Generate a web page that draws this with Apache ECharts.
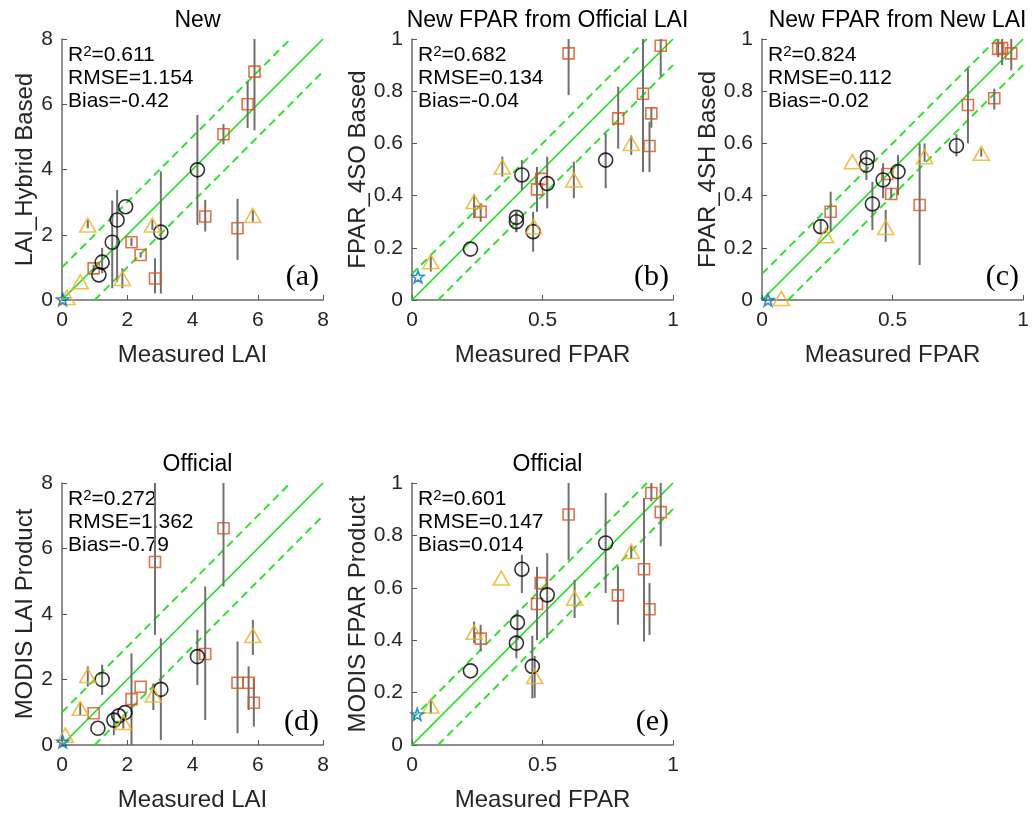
<!DOCTYPE html>
<html>
<head>
<meta charset="utf-8">
<script src="https://cdn.jsdelivr.net/npm/echarts@6/dist/echarts.min.js"></script>
<style>
  html, body { margin: 0; padding: 0; background: #fff; }
  #chart { width: 1032px; height: 814px; }
</style>
</head>
<body>
<div id="chart"></div>
<script>
// Each point: [measured, estimated, errLow, errHigh]; null error = no bar drawn.

// (a) New LAI (hybrid) vs measured LAI
const aSquares = [[5.9,7.0,5.2,8.0],[5.69,6.0,5.27,6.7],[4.95,5.08,4.77,5.39],[4.39,2.56,2.1,3.07],[5.38,2.2,1.23,3.1],[2.13,1.77,1.65,1.9],[2.41,1.38,1.3,1.46],[0.97,0.97,0.88,1.08],[2.85,0.66,0.2,1.28]];
const aCircles = [[4.15,3.99,2.3,5.67],[1.95,2.86,null,null],[1.69,2.45,0.56,3.37],[1.54,1.77,0.36,3.05],[1.23,1.16,0.82,1.6],[1.13,0.77,null,null],[3.03,2.08,0.2,3.94]];
const aTriangles = [[0.79,2.3,2.2,2.45],[2.77,2.3,2.15,2.45],[5.85,2.59,2.4,2.75],[0.56,0.56,null,null],[1.85,0.66,0.36,0.97],[0.15,0.08,null,null]];
const aStars = [[0.02,0.02,null,null]];
const aStats = ['0.611', '1.154', '-0.42'];

// (b) New FPAR from official LAI vs measured FPAR
const bSquares = [[0.60,0.945,0.785,1.0],[0.953,0.974,0.856,1.0],[0.885,0.79,0.49,1.0],[0.917,0.715,0.66,0.74],[0.79,0.696,0.58,0.817],[0.91,0.59,0.49,0.683],[0.495,0.464,null,null],[0.479,0.424,0.338,0.51],[0.263,0.338,0.3,0.37]];
const bCircles = [[0.421,0.479,0.421,0.536],[0.518,0.446,0.351,0.549],[0.742,0.536,0.428,0.638],[0.40,0.317,0.26,0.34],[0.40,0.30,0.26,0.34],[0.464,0.262,0.185,0.338],[0.224,0.195,null,null]];
const bTriangles = [[0.346,0.51,0.473,0.549],[0.238,0.377,0.314,0.404],[0.62,0.46,0.39,0.53],[0.84,0.60,0.556,0.63],[0.466,0.281,null,null],[0.072,0.147,0.109,0.17]];
const bStars = [[0.023,0.089,null,null]];
const bStats = ['0.682', '0.134', '-0.04'];

// (c) New FPAR from new LAI vs measured FPAR
const cSquares = [[0.905,0.962,0.93,1.0],[0.92,0.965,0.9,1.0],[0.955,0.945,0.88,1.0],[0.89,0.773,0.73,0.81],[0.789,0.747,0.6,0.888],[0.48,0.483,null,null],[0.495,0.406,0.39,0.43],[0.263,0.338,0.262,0.415],[0.604,0.364,0.134,0.6]];
const cCircles = [[0.404,0.545,null,null],[0.40,0.517,0.46,0.568],[0.521,0.492,0.402,0.555],[0.464,0.46,0.39,0.524],[0.745,0.591,0.55,0.635],[0.423,0.368,0.268,0.453],[0.225,0.281,0.255,0.307]];
const cTriangles = [[0.346,0.53,null,null],[0.623,0.549,0.53,0.6],[0.84,0.562,0.55,0.58],[0.474,0.278,0.223,0.345],[0.243,0.246,null,null],[0.074,0.006,null,null]];
const cStars = [[0.023,0.0,null,null]];
const cStats = ['0.824', '0.112', '-0.02'];

// (d) Official MODIS LAI vs measured LAI
const dSquares = [[4.95,6.62,4.84,8.0],[2.85,5.59,3.36,8.0],[4.39,2.78,0.76,4.84],[5.38,1.9,0.36,3.16],[5.72,1.9,1.07,2.4],[5.88,1.29,0.56,2.04],[2.41,1.78,null,null],[2.13,1.40,0.0,2.8],[0.97,0.97,null,null]];
const dCircles = [[4.15,2.7,1.83,3.52],[3.03,1.70,0.15,3.26],[1.23,2.0,1.53,2.45],[1.93,0.99,null,null],[1.74,0.89,null,null],[1.59,0.76,0.3,1.0],[1.1,0.51,null,null]];
const dTriangles = [[0.79,2.12,1.78,2.4],[5.85,3.34,2.75,3.82],[2.8,1.53,1.07,1.88],[0.56,1.12,0.9,1.3],[1.88,0.69,0.5,0.85],[0.1,0.3,null,null]];
const dStars = [[0.02,0.1,null,null]];
const dStats = ['0.272', '1.362', '-0.79'];

// (e) Official MODIS FPAR vs measured FPAR
const eSquares = [[0.917,0.962,0.93,1.0],[0.953,0.889,0.758,1.0],[0.60,0.88,0.707,1.0],[0.889,0.671,0.395,0.943],[0.789,0.571,0.459,0.682],[0.91,0.518,0.42,0.618],[0.493,0.618,null,null],[0.479,0.538,0.40,0.68],[0.263,0.406,0.357,0.459]];
const eCircles = [[0.742,0.771,0.58,0.962],[0.421,0.671,0.58,0.726],[0.518,0.573,0.408,0.732],[0.404,0.468,0.401,0.516],[0.40,0.389,0.331,0.42],[0.461,0.30,0.178,0.417],[0.224,0.283,null,null]];
const eTriangles = [[0.342,0.637,null,null],[0.238,0.43,0.389,0.471],[0.623,0.56,0.485,0.631],[0.84,0.739,0.71,0.76],[0.47,0.261,0.18,0.34],[0.072,0.149,0.12,0.17]];
const eStars = [[0.02,0.117,null,null]];
const eStats = ['0.601', '0.147', '0.014'];

// Axis ranges and +/- tolerance bands
const laiMax = 8, laiStep = 2, laiBand = 1;
const fparMax = 1, fparStepX = 0.5, fparStepY = 0.2, fparBand = 0.1;

const FONT = '"Liberation Sans", Arial, sans-serif';
const SERIF = '"Liberation Serif", "Times New Roman", serif';

const panels = [
  { left: 62,  top: 39,  size: [261, 261], max: laiMax,  xStep: laiStep,   yStep: laiStep,   band: laiBand,
    title: 'New', xName: 'Measured LAI', yName: 'LAI_Hybrid Based', stats: aStats, tag: '(a)',
    groups: [aSquares, aCircles, aTriangles, aStars] },
  { left: 412, top: 39,  size: [261, 261], max: fparMax, xStep: fparStepX, yStep: fparStepY, band: fparBand,
    title: 'New FPAR from Official LAI', xName: 'Measured FPAR', yName: 'FPAR_4SO Based', stats: bStats, tag: '(b)',
    groups: [bSquares, bCircles, bTriangles, bStars] },
  { left: 762, top: 39,  size: [261, 261], max: fparMax, xStep: fparStepX, yStep: fparStepY, band: fparBand,
    title: 'New FPAR from New LAI', xName: 'Measured FPAR', yName: 'FPAR_4SH Based', stats: cStats, tag: '(c)',
    groups: [cSquares, cCircles, cTriangles, cStars] },
  { left: 62,  top: 483, size: [261, 262], max: laiMax,  xStep: laiStep,   yStep: laiStep,   band: laiBand,
    title: 'Official', xName: 'Measured LAI', yName: 'MODIS LAI Product', stats: dStats, tag: '(d)',
    groups: [dSquares, dCircles, dTriangles, dStars] },
  { left: 412, top: 483, size: [261, 262], max: fparMax, xStep: fparStepX, yStep: fparStepY, band: fparBand,
    title: 'Official', xName: 'Measured FPAR', yName: 'MODIS FPAR Product', stats: eStats, tag: '(e)',
    groups: [eSquares, eCircles, eTriangles, eStars] }
];

// Marker styles per group: square, circle, triangle, pentagram
const STAR = 'path://M0,-10L2.35,-3.24L9.51,-3.09L3.8,1.24L5.88,8.09L0,4L-5.88,8.09L-3.8,1.24L-9.51,-3.09L-2.35,-3.24Z';
const markers = [
  { symbol: 'rect',     size: 11,       color: '#D95319' },
  { symbol: 'circle',   size: 14,       color: '#000000' },
  { symbol: 'triangle', size: [16, 14], color: '#EDB120' },
  { symbol: STAR,       size: 12,       color: '#0072BD' }
];

const fmt = v => String(Math.round(v * 100) / 100);

const grids = [], xAxes = [], yAxes = [], series = [], titles = [], graphics = [];

panels.forEach((p, i) => {
  grids.push({ left: p.left, top: p.top, width: p.size[0], height: p.size[1] });

  const axisCommon = {
    min: 0, max: p.max,
    axisLine: { show: true, onZero: false, lineStyle: { color: '#6a6a6a', width: 1.5 } },
    axisTick: { show: true, inside: true, length: 5, lineStyle: { color: '#555', width: 1 } },
    splitLine: { show: false },
    nameLocation: 'middle',
    nameTextStyle: { fontFamily: FONT, fontSize: 24, color: '#262626' }
  };
  xAxes.push(Object.assign({}, axisCommon, {
    type: 'value', gridIndex: i, interval: p.xStep, name: p.xName, nameGap: 43,
    axisLabel: { fontFamily: FONT, fontSize: 21, color: '#262626', margin: 10, formatter: fmt }
  }));
  yAxes.push(Object.assign({}, axisCommon, {
    type: 'value', gridIndex: i, interval: p.yStep, name: p.yName, nameGap: 21,
    axisLabel: { fontFamily: FONT, fontSize: 21, color: '#262626', margin: 9, formatter: fmt }
  }));

  // 1:1 line and tolerance band
  const lineBase = { type: 'line', xAxisIndex: i, yAxisIndex: i, symbol: 'none', silent: true, z: 1 };
  series.push(Object.assign({}, lineBase, {
    data: [[0, 0], [p.max, p.max]], lineStyle: { color: '#0fe60f', width: 1.6 }
  }));
  series.push(Object.assign({}, lineBase, {
    data: [[0, p.band], [p.max - p.band, p.max]], lineStyle: { color: '#22e622', width: 1.9, type: [8, 5] }
  }));
  series.push(Object.assign({}, lineBase, {
    data: [[p.band, 0], [p.max, p.max - p.band]], lineStyle: { color: '#22e622', width: 1.9, type: [8, 5] }
  }));

  // vertical error bars
  const bars = [];
  p.groups.forEach(g => g.forEach(d => { if (d[2] != null) bars.push([d[0], d[2], d[3]]); }));
  series.push({
    type: 'custom', xAxisIndex: i, yAxisIndex: i, z: 2, silent: true,
    data: bars, encode: { x: 0, y: [1, 2] },
    renderItem: (params, api) => {
      const p1 = api.coord([api.value(0), api.value(1)]);
      const p2 = api.coord([api.value(0), api.value(2)]);
      return { type: 'line', shape: { x1: p1[0], y1: p1[1], x2: p2[0], y2: p2[1] },
               style: { stroke: '#707070', lineWidth: 2 } };
    }
  });

  // hollow markers
  p.groups.forEach((g, k) => {
    const m = markers[k];
    series.push({
      type: 'scatter', xAxisIndex: i, yAxisIndex: i, z: 3, silent: true,
      symbol: m.symbol, symbolSize: m.size,
      itemStyle: { color: 'rgba(0,0,0,0)', borderColor: m.color, borderWidth: 1.6 },
      data: g.map(d => [d[0], d[1]])
    });
  });

  // panel title
  titles.push({
    text: p.title, left: p.left + p.size[0] / 2, top: p.top - 35, textAlign: 'center',
    textStyle: { fontFamily: FONT, fontSize: 23, fontWeight: 'normal', color: '#000' }
  });

  // statistics block
  graphics.push({
    type: 'text', x: p.left + 6, y: p.top + 5, silent: true,
    style: {
      text: '{n|R}{s|2}{n|=' + p.stats[0] + '}\n{n|RMSE=' + p.stats[1] + '}\n{n|Bias=' + p.stats[2] + '}',
      align: 'left', verticalAlign: 'top',
      rich: {
        n: { fontFamily: FONT, fontSize: 21, lineHeight: 23, fill: '#000' },
        s: { fontFamily: FONT, fontSize: 15, lineHeight: 23, fill: '#000', verticalAlign: 'top', padding: [0, 0, 11, 0] }
      }
    }
  });

  // panel tag
  graphics.push({
    type: 'text', x: p.left + p.size[0] - 4, y: p.top + p.size[1] - 23, silent: true,
    style: { text: p.tag, align: 'right', verticalAlign: 'middle',
             fontFamily: SERIF, fontSize: 30, fill: '#000' }
  });
});

const chart = echarts.init(document.getElementById('chart'), null, { renderer: 'canvas' });
chart.setOption({
  backgroundColor: '#fff',
  animation: false,
  title: titles,
  grid: grids,
  xAxis: xAxes,
  yAxis: yAxes,
  series: series,
  graphic: graphics
});
</script>
</body>
</html>
